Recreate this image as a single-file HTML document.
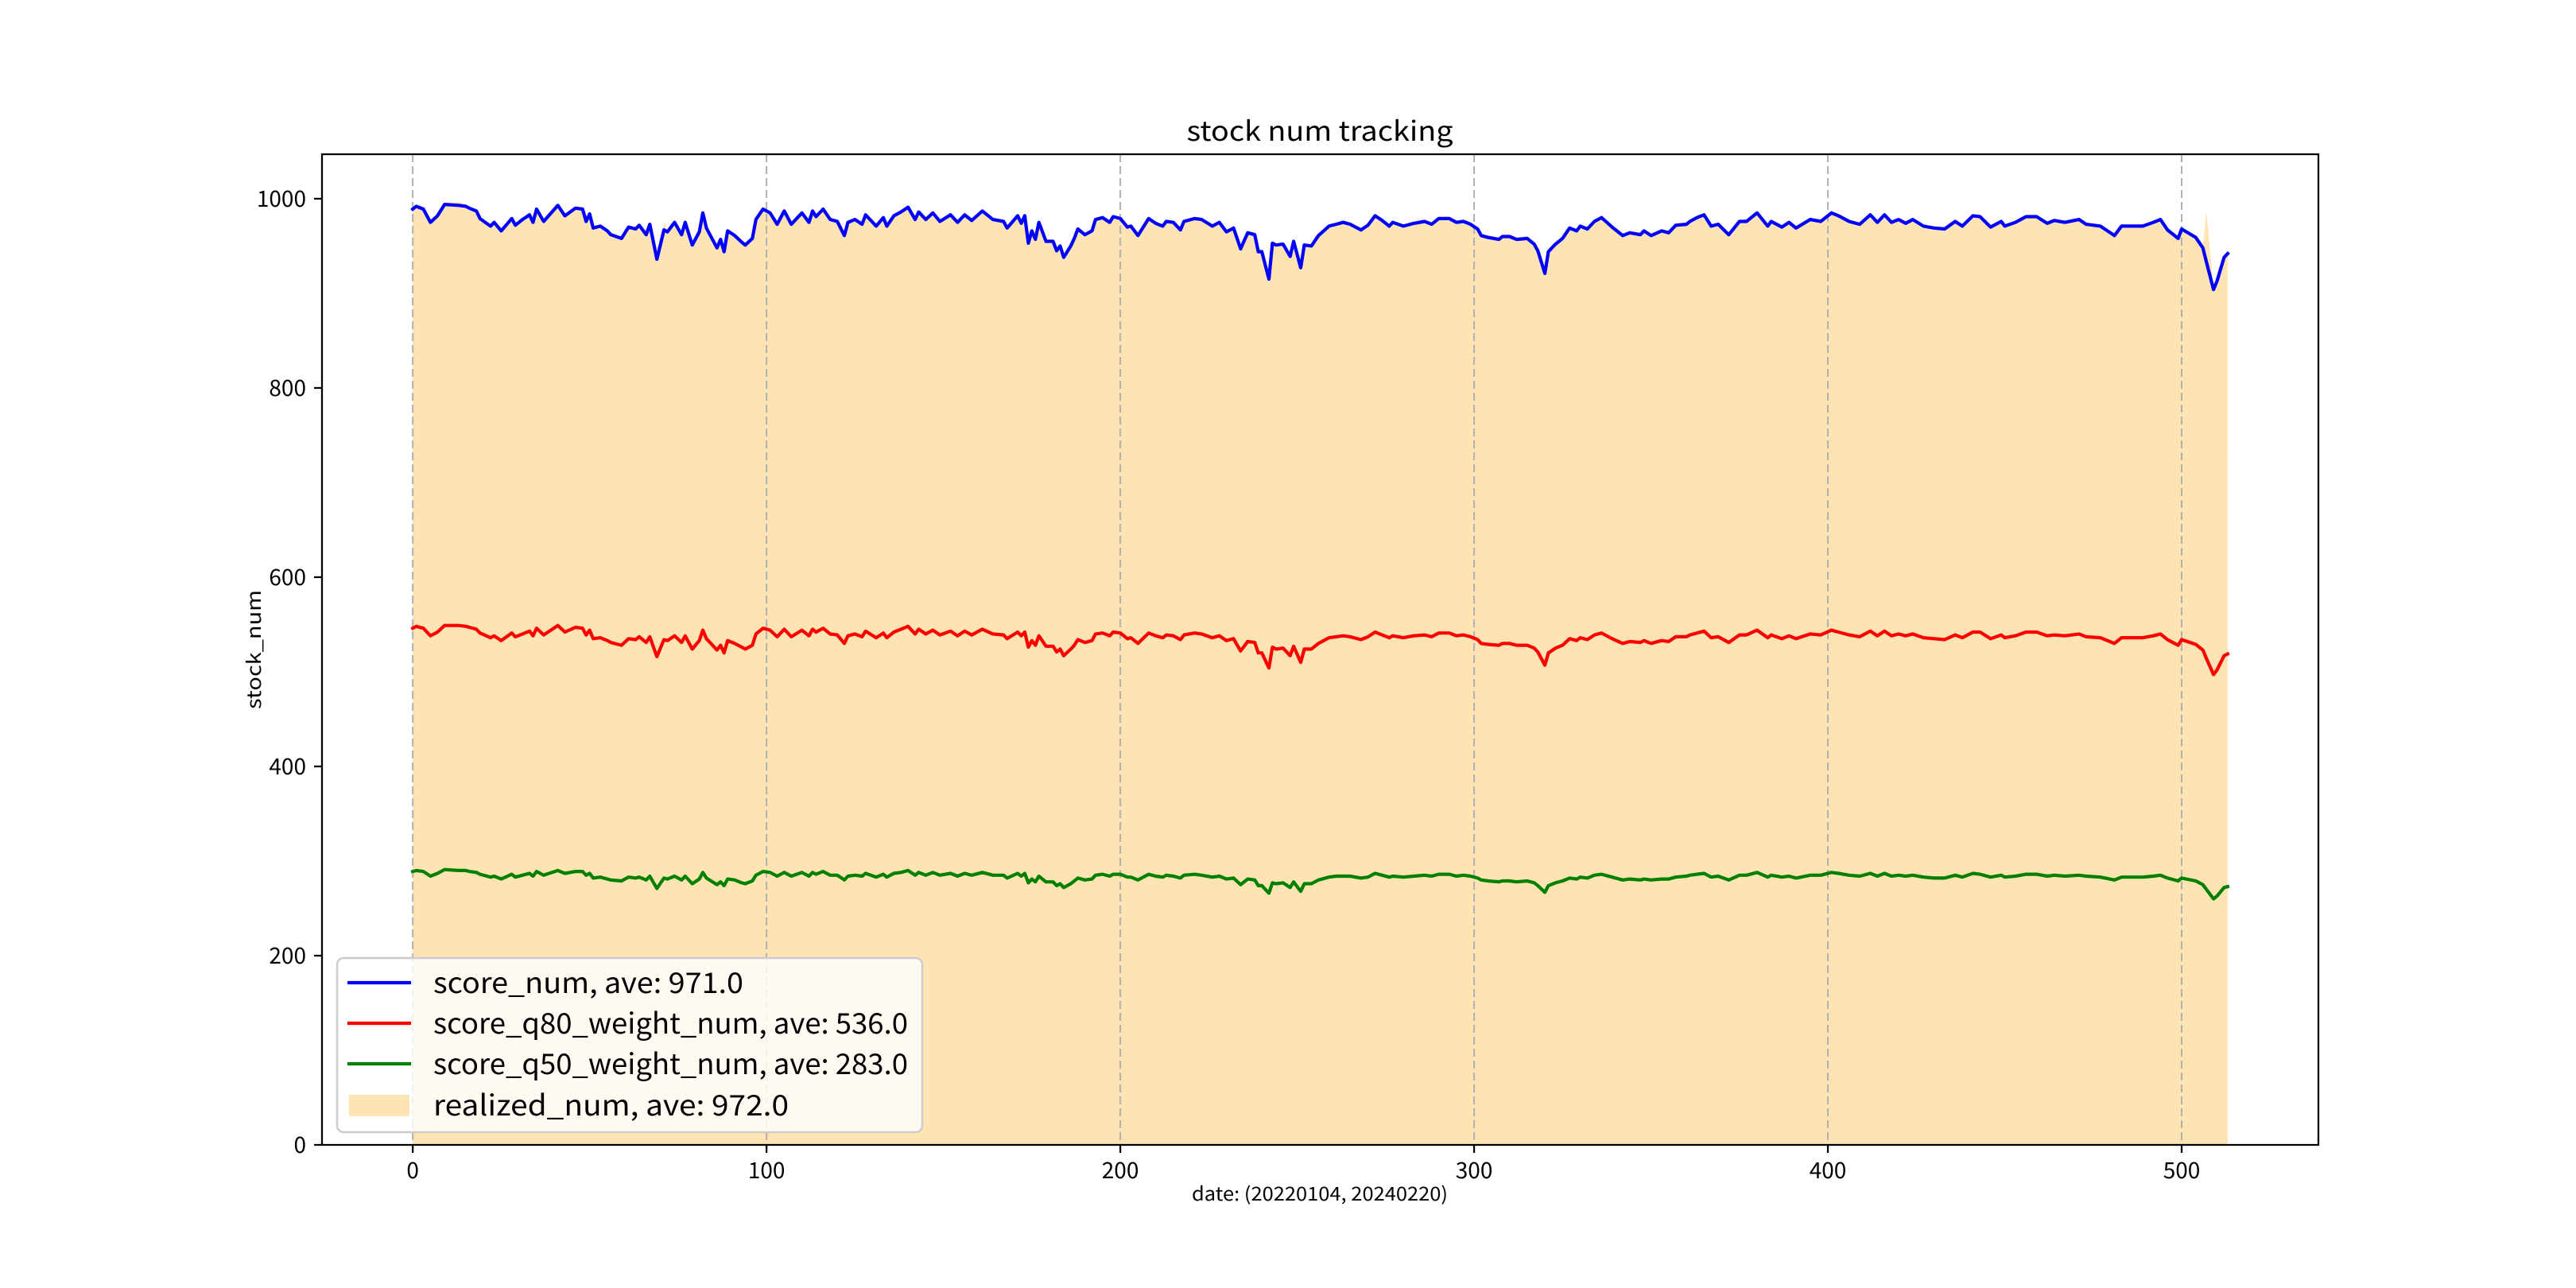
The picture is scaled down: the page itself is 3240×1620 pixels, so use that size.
<!DOCTYPE html>
<html><head><meta charset="utf-8"><style>
html,body{margin:0;padding:0;background:#fff;}
svg{display:block;}
text{font-family:"WenQuanYi Zen Hei","Noto Sans CJK SC","Liberation Sans",sans-serif;fill:#000;}
</style></head><body>
<svg id="chart" width="3240" height="1620" viewBox="0 0 3240 1620" xmlns="http://www.w3.org/2000/svg">
<rect width="3240" height="1620" fill="#fff"/>
<g id="plot"></g>
</svg>
<script>
const xIdx = [0,1,3,5,7,9,13,15,16,18,19,22,23,25,28,29,31,33,34,35,37,41,43,46,48,49,50,51,53,55,56,59,61,63,64,66,67,69,71,72,74,76,77,79,81,82,83,86,87,88,89,91,93,94,96,97,99,101,103,105,107,110,112,113,114,116,118,120,122,123,125,127,128,131,133,134,136,138,140,142,143,145,147,149,152,154,156,158,161,164,167,168,171,172,173,174,175,176,177,179,181,182,183,184,186,187,188,190,192,193,195,197,198,200,202,203,205,208,210,212,213,215,217,218,221,223,226,228,230,232,234,236,238,239,240,242,243,244,246,248,249,251,252,254,256,259,261,263,265,268,270,272,274,276,277,280,283,286,288,290,293,295,297,299,301,302,304,307,308,310,312,315,317,318,320,321,323,325,327,329,330,332,334,336,339,342,344,347,348,350,353,355,357,360,361,363,365,367,369,372,375,377,380,383,384,387,389,391,395,398,401,403,406,409,412,414,416,418,420,422,424,427,430,433,436,438,441,443,446,449,450,453,456,459,462,464,467,471,473,477,481,483,486,489,492,494,496,499,500,504,506,507,509,510,512,513];
const scoreNum = [989,992,989,975,982,994,993,992,990,987,979,971,975,966,979,972,978,983,975,989,976,993,982,990,989,976,984,969,971,966,962,958,970,968,972,962,973,936,967,965,975,962,975,951,965,985,969,948,957,944,966,961,954,951,958,978,989,985,973,987,973,985,975,987,981,989,978,976,961,975,978,973,983,971,980,971,982,986,991,978,986,978,985,976,983,975,983,977,987,978,976,969,982,974,982,953,966,957,975,955,955,945,950,938,950,958,968,962,966,978,980,975,981,979,970,971,961,979,974,971,976,975,967,976,979,978,971,975,965,969,947,964,962,944,944,915,953,951,952,939,955,927,951,950,961,971,973,975,973,967,972,982,977,971,975,971,974,976,973,979,979,975,976,973,968,961,959,957,960,960,957,958,952,945,921,944,952,958,969,966,971,968,976,980,970,961,964,962,966,961,966,964,972,973,976,980,983,971,973,962,976,976,985,971,976,970,975,969,978,976,985,982,976,973,983,975,983,975,978,974,978,971,969,968,976,971,982,981,970,976,971,975,981,981,974,977,975,978,973,971,961,971,971,971,975,978,967,958,968,959,948,933,904,913,938,942];
const q80Num = [546,548,546,538,542,549,549,548,547,545,541,536,538,533,541,537,540,543,538,546,539,549,542,547,546,539,544,535,536,533,531,528,535,534,537,531,537,516,534,533,538,531,538,524,533,544,535,523,528,520,533,530,526,524,528,540,546,544,537,545,537,544,538,545,542,546,540,539,530,538,540,537,543,536,541,536,542,545,548,540,545,540,544,539,543,538,543,539,545,540,539,535,542,538,542,526,533,528,538,527,527,521,524,517,524,528,534,531,533,540,541,538,542,541,535,536,530,541,538,536,539,538,534,539,541,540,536,538,533,535,522,532,531,520,520,504,526,524,525,517,527,510,524,524,530,536,537,538,537,534,537,542,539,536,538,536,538,539,537,541,541,538,539,537,534,530,529,528,530,530,528,528,525,521,507,520,525,528,535,533,536,534,539,541,535,530,532,531,533,530,533,532,537,537,539,541,543,536,537,531,539,539,544,536,539,535,538,535,540,539,544,542,539,537,543,538,543,538,540,538,540,536,535,534,539,536,542,542,535,539,536,538,542,542,538,539,538,540,537,536,530,536,536,536,538,540,534,528,534,529,523,514,497,502,517,519];
const q50Num = [289,290,289,284,287,291,290,290,289,288,286,283,284,281,286,283,285,287,284,289,285,290,287,289,289,285,287,282,283,281,280,279,283,282,283,280,284,271,282,281,284,280,284,276,281,288,282,275,278,274,281,280,277,276,279,285,289,288,284,288,284,288,284,288,286,289,285,285,280,284,285,284,287,283,286,283,287,288,290,285,288,285,288,285,287,284,287,285,288,285,285,282,287,284,287,277,281,278,284,278,278,274,276,272,276,279,282,280,281,285,286,284,286,286,283,283,280,286,284,283,285,284,282,285,286,285,283,284,281,282,275,281,280,274,274,266,277,276,277,272,278,268,276,276,280,283,284,284,284,282,283,287,285,283,284,283,284,285,284,286,286,284,285,284,282,280,279,278,279,279,278,279,277,274,267,274,277,279,282,281,283,282,285,286,283,280,281,280,281,280,281,281,283,284,285,286,287,283,284,280,285,285,288,283,285,283,284,282,285,285,288,287,285,284,287,284,287,284,285,284,285,283,282,282,285,283,287,286,283,285,283,284,286,286,284,285,284,285,284,283,280,283,283,283,284,285,282,279,282,279,275,270,260,263,272,273];
const realizedNum = [985,992,990,977,983,995,997,993,991,989,981,973,976,968,980,974,979,986,977,990,978,994,984,991,990,978,985,971,973,968,964,960,972,970,974,964,975,940,975,967,978,965,980,954,967,990,971,950,959,947,968,963,956,953,960,980,990,986,975,988,975,986,977,988,983,990,980,978,963,977,980,975,985,973,982,973,984,988,992,980,987,980,986,978,985,977,985,979,988,980,978,971,984,976,983,956,968,959,977,957,957,948,952,941,952,960,970,964,968,980,982,977,983,981,972,973,963,981,976,973,978,977,969,978,981,980,973,977,967,971,950,966,964,947,947,918,955,953,954,942,957,930,953,952,963,973,975,977,975,969,974,984,979,973,977,973,976,978,975,981,981,977,978,975,970,963,961,959,962,962,959,960,954,947,924,946,954,960,971,968,973,970,978,982,972,963,966,964,968,963,968,966,974,975,978,982,985,973,975,964,978,978,987,973,978,972,977,971,980,978,987,984,978,975,985,977,985,977,980,976,980,973,971,970,978,973,984,983,972,978,973,977,983,983,976,979,977,980,975,973,963,973,973,973,977,980,969,960,970,961,950,986,906,915,940,944];
const xTicks = [0,100,200,300,400,500];
const yTicks = [0,200,400,600,800,1000];
const legendLabels = ["score_num, ave: 971.0","score_q80_weight_num, ave: 536.0","score_q50_weight_num, ave: 283.0","realized_num, ave: 972.0"];

const L=405, R=2916, T=194, B=1440;
const xMin=-25.65, xMax=538.65, yMin=0, yMax=1047;
function sx(v){return L+(v-xMin)/(xMax-xMin)*(R-L);}
function sy(v){return B-(v-yMin)/(yMax-yMin)*(B-T);}
const NS="http://www.w3.org/2000/svg";
const plot=document.getElementById('plot');
function mk(tag,attrs,parent){const e=document.createElementNS(NS,tag);for(const k in attrs)e.setAttribute(k,attrs[k]);(parent||plot).appendChild(e);return e;}

// fill
let d='M'+sx(xIdx[0])+','+sy(0);
xIdx.forEach((x,i)=>{d+=' L'+sx(x).toFixed(1)+','+sy(realizedNum[i]).toFixed(1);});
d+=' L'+sx(xIdx[xIdx.length-1])+','+sy(0)+' Z';
const fill=mk('path',{d:d,fill:'#fee3b3',stroke:'none'});



// grid
xTicks.forEach(t=>{
  const g=mk('line',{x1:sx(t),x2:sx(t),y1:T,y2:B,stroke:'#b0b0b0','stroke-width':2,'stroke-dasharray':'10,5'});
  
  
});

function line(arr,color,name){
  let p='';
  xIdx.forEach((x,i)=>{p+=(i?' L':'M')+sx(x).toFixed(1)+','+sy(arr[i]).toFixed(1);});
  const e=mk('path',{d:p,fill:'none',stroke:color,'stroke-width':4.2,'stroke-linejoin':'round','stroke-linecap':'square'});
  
  
}
line(scoreNum,'#0000ff','score-num-line');
line(q80Num,'#ff0000','score-q80-weight-num-line');
line(q50Num,'#008000','score-q50-weight-num-line');

// spines
const sp=mk('rect',{x:L,y:T,width:R-L,height:B-T,fill:'none',stroke:'#000','stroke-width':2.25});



// ticks
xTicks.forEach(t=>{
  const tk=mk('line',{x1:sx(t),x2:sx(t),y1:B,y2:B+10,stroke:'#000','stroke-width':2.25});
  
  
  const lb=mk('text',{x:sx(t),y:B+42,'font-size':28,'text-anchor':'middle'});
  lb.textContent=String(t);
  
  
});
yTicks.forEach(t=>{
  const tk=mk('line',{x1:L-10,x2:L,y1:sy(t),y2:sy(t),stroke:'#000','stroke-width':2.25});
  
  
  const lb=mk('text',{x:L-20,y:sy(t)+10,'font-size':28,'text-anchor':'end'});
  lb.textContent=String(t);
  
  
});

// labels
const title=mk('text',{x:1660,y:177,'font-size':34,'text-anchor':'middle',textLength:335,lengthAdjust:'spacingAndGlyphs'});
title.textContent='stock num tracking';


const xl=mk('text',{x:1660,y:1510,'font-size':24,'text-anchor':'middle',textLength:322,lengthAdjust:'spacingAndGlyphs'});
xl.textContent='date: (20220104, 20240220)';


const yl=mk('text',{x:0,y:0,'font-size':24,'text-anchor':'middle',transform:'translate(328,817) rotate(-90)',textLength:150,lengthAdjust:'spacingAndGlyphs'});
yl.textContent='stock_num';



// legend
const lg=mk('g',{});


const box=mk('rect',{x:424,y:1205,width:736,height:219,rx:8,fill:'#fff',"fill-opacity":0.82,stroke:'#cccccc','stroke-width':2.5},lg);


const colors=['#0000ff','#ff0000','#008000'];
const rowY=[1236,1287,1338,1390];
const textW=[390,597,597,447];
legendLabels.forEach((lab,i)=>{
  if(i<3){
    const h=mk('line',{x1:437,x2:517,y1:rowY[i],y2:rowY[i],stroke:colors[i],'stroke-width':4.2},lg);
    
    
  } else {
    const h=mk('rect',{x:439,y:rowY[i]-13,width:76,height:27,fill:'#fee3b3'},lg);
    
    
  }
  const t=mk('text',{x:545,y:rowY[i]+13,'font-size':36,textLength:textW[i],lengthAdjust:'spacingAndGlyphs'},lg);
  t.textContent=lab;
  
  
});
</script>
</body></html>
